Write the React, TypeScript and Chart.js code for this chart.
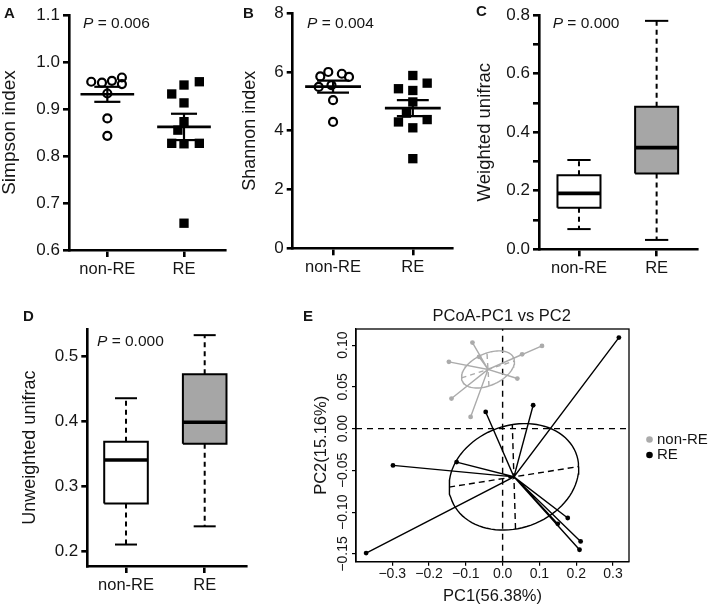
import React, { useEffect, useRef } from 'react';
import { Chart, registerables } from 'chart.js';

Chart.register(...registerables);

const FONT = '"Liberation Sans", Arial, Helvetica, sans-serif';
const INK = '#151515';
const BOX_GRAY = '#a6a6a6';
const PC_GRAY = '#ababab';

Chart.defaults.font.family = FONT;
Chart.defaults.color = INK;

// ---------------- DATA ----------------
const GROUPS = ['non-RE', 'RE'];
const GROUP_POS = [1, 2];

// A: Simpson index (dot plot, mean ± SEM)
const SIMPSON_NONRE = [0.958, 0.956, 0.96, 0.967, 0.953, 0.933, 0.88, 0.843];
const SIMPSON_NONRE_JITTER = [-0.21, -0.07, 0.06, 0.19, 0.19, 0, 0, 0];
const SIMPSON_RE = [0.958, 0.951, 0.932, 0.913, 0.873, 0.855, 0.827, 0.826, 0.827, 0.657];
const SIMPSON_RE_JITTER = [0.2, 0, -0.16, 0, 0, -0.08, -0.16, 0, 0.2, 0];
const SIMPSON_TICKS = [0.6, 0.7, 0.8, 0.9, 1.0, 1.1];
const SIMPSON_LABELS = ['0.6', '0.7', '0.8', '0.9', '1.0', '1.1'];

// B: Shannon index
const SHANNON_NONRE = [5.85, 6.0, 5.94, 5.83, 5.49, 5.55, 5.04, 4.3];
const SHANNON_NONRE_JITTER = [-0.16, -0.06, 0.11, 0.2, -0.18, -0.02, 0, 0];
const SHANNON_RE = [5.88, 5.43, 5.37, 5.62, 4.98, 4.6, 4.3, 4.38, 4.1, 3.05];
const SHANNON_RE_JITTER = [0, -0.18, 0, 0.18, 0, -0.08, -0.18, 0.18, 0, 0];
const SHANNON_TICKS = [0, 2, 4, 6, 8];
const SHANNON_LABELS = ['0', '2', '4', '6', '8'];

// C: Weighted unifrac boxes [min, q1, median, q3, max]
const WEIGHTED_NONRE = [0.069, 0.142, 0.191, 0.253, 0.305];
const WEIGHTED_RE = [0.032, 0.259, 0.347, 0.487, 0.78];
const WEIGHTED_TICKS = [0, 0.1, 0.2, 0.3, 0.4, 0.5, 0.6, 0.7, 0.8];
const WEIGHTED_LABELS = ['0.0', '', '0.2', '', '0.4', '', '0.6', '', '0.8'];

// D: Unweighted unifrac boxes [min, q1, median, q3, max]
const UNWEIGHTED_NONRE = [0.21, 0.273, 0.34, 0.368, 0.435];
const UNWEIGHTED_RE = [0.238, 0.365, 0.398, 0.472, 0.532];
const UNWEIGHTED_TICKS = [0.2, 0.3, 0.4, 0.5];
const UNWEIGHTED_LABELS = ['0.2', '0.3', '0.4', '0.5'];

// E: PCoA
const NONRE_PC1 = [-0.082, 0.107, -0.146, 0.053, 0.04, -0.139, -0.087, -0.064];
const NONRE_PC2 = [0.103, 0.099, 0.08, 0.089, 0.06, 0.036, 0.014, 0.086];
const RE_PC1 = [-0.046, 0.083, 0.316, -0.298, -0.125, -0.371, 0.177, 0.212, 0.209, 0.15];
const RE_PC2 = [0.02, 0.028, 0.109, -0.044, -0.04, -0.149, -0.107, -0.135, -0.145, -0.114];
const PC1_RANGE = [-0.3985, 0.3435];
const PC2_RANGE = [-0.1593, 0.1193];
const PC1_TICKS = [-0.3, -0.2, -0.1, 0, 0.1, 0.2, 0.3];
const PC1_LABELS = ['\u22120.3', '\u22120.2', '\u22120.1', '0.0', '0.1', '0.2', '0.3'];
const PC2_TICKS = [-0.15, -0.1, -0.05, 0, 0.05, 0.1];
const PC2_LABELS = ['\u22120.15', '\u22120.10', '\u22120.05', '0.00', '0.05', '0.10'];
const NONRE_ELLIPSE = { a: 0.0726, b: 0.02, angle: 8 };
const RE_ELLIPSE = { a: 0.1765, b: 0.0627, angle: 4 };

// ---------------- HELPERS ----------------
type Area = { l: number; t: number; r: number; b: number };
type Frame = { left: number; top: number; width: number; height: number; area: Area };
type TextPart = { t: string; italic?: boolean };
type TextItem = { x: number; y: number; size: number; parts: TextPart[]; bold?: boolean; align?: 'left' | 'center' };

const mean = (v: number[]) => v.reduce((a, b) => a + b, 0) / v.length;
const sem = (v: number[]) => {
  const m = mean(v);
  const sd = Math.sqrt(v.reduce((a, b) => a + (b - m) ** 2, 0) / (v.length - 1));
  return sd / Math.sqrt(v.length);
};

function textPlugin(f: Frame, items: TextItem[]) {
  return {
    id: 'panelText',
    afterDraw(chart: any) {
      const ctx = chart.ctx as CanvasRenderingContext2D;
      ctx.save();
      ctx.fillStyle = INK;
      ctx.textBaseline = 'middle';
      ctx.textAlign = 'left';
      for (const it of items) {
        const fonts = it.parts.map((p) => `${p.italic ? 'italic ' : ''}${it.bold ? 'bold ' : ''}${it.size}px ${FONT}`);
        const widths = it.parts.map((p, i) => {
          ctx.font = fonts[i];
          return ctx.measureText(p.t).width;
        });
        const total = widths.reduce((a, b) => a + b, 0);
        let x = it.x - f.left - (it.align === 'center' ? total / 2 : 0);
        const y = it.y - f.top;
        it.parts.forEach((p, i) => {
          ctx.font = fonts[i];
          ctx.fillText(p.t, x, y);
          x += widths[i];
        });
      }
      ctx.restore();
    },
  };
}

const seg = (pts: { x: number; y: number }[], opts: any = {}) => ({
  type: 'scatter',
  data: pts,
  showLine: true,
  borderColor: '#000',
  borderWidth: 2,
  pointRadius: 0,
  clip: false,
  fill: false,
  order: 0,
  ...opts,
});

function baseOptions(f: Frame) {
  return {
    responsive: false,
    maintainAspectRatio: false,
    animation: false,
    events: [],
    layout: { padding: { left: 0, top: f.area.t - f.top, right: f.left + f.width - f.area.r, bottom: 0 } },
    plugins: { legend: { display: false }, tooltip: { enabled: false }, title: { display: false } },
  };
}

function catXAxis(f: Frame, range: number[]) {
  return {
    type: 'linear',
    min: range[0],
    max: range[1],
    afterBuildTicks: (s: any) => {
      s.ticks = GROUP_POS.map((v) => ({ value: v }));
    },
    afterFit: (s: any) => {
      s.height = f.top + f.height - f.area.b;
    },
    ticks: {
      callback: (_v: any, i: number) => GROUPS[i],
      font: { size: 16.5, family: FONT },
      color: INK,
      padding: 2.5,
      autoSkip: false,
      maxRotation: 0,
      minRotation: 0,
    },
    grid: { drawOnChartArea: false, drawTicks: true, tickLength: 7, lineWidth: 2.6, color: '#000' },
    border: { display: true, width: 2.6, color: '#000' },
  };
}

function leftYAxis(
  f: Frame,
  o: { min: number; max: number; ticks: number[]; labels: string[]; title: string; titleSize: number; titlePad: number },
) {
  return {
    type: 'linear',
    position: 'left',
    min: o.min,
    max: o.max,
    afterBuildTicks: (s: any) => {
      s.ticks = o.ticks.map((v) => ({ value: v }));
    },
    afterFit: (s: any) => {
      s.width = f.area.l - f.left;
    },
    ticks: {
      callback: (_v: any, i: number) => o.labels[i],
      font: { size: 17, family: FONT },
      color: INK,
      padding: 3,
      autoSkip: false,
    },
    grid: { drawOnChartArea: false, drawTicks: true, tickLength: 6, lineWidth: 2.6, color: '#000' },
    border: { display: true, width: 2.6, color: '#000' },
    title: {
      display: true,
      text: o.title,
      font: { size: o.titleSize, family: FONT },
      color: INK,
      padding: { top: o.titlePad, bottom: 0 },
    },
  };
}

function dotPlotConfig(
  f: Frame,
  o: {
    nonre: number[];
    nonreJ: number[];
    re: number[];
    reJ: number[];
    xRange: number[];
    y: any;
    texts: TextItem[];
    semCap: number;
  },
) {
  const datasets: any[] = [];
  [o.nonre, o.re].forEach((vals, gi) => {
    const g = GROUP_POS[gi];
    const m = mean(vals);
    const se = sem(vals);
    datasets.push(seg([{ x: g - 0.35, y: m }, { x: g + 0.35, y: m }], { borderWidth: 2.6 }));
    datasets.push(seg([{ x: g, y: m - se }, { x: g, y: m + se }], { borderWidth: 2.2 }));
    datasets.push(seg([{ x: g - o.semCap, y: m + se }, { x: g + o.semCap, y: m + se }], { borderWidth: 2.2 }));
    datasets.push(seg([{ x: g - o.semCap, y: m - se }, { x: g + o.semCap, y: m - se }], { borderWidth: 2.2 }));
  });
  datasets.push({
    type: 'scatter',
    data: o.nonre.map((v, i) => ({ x: GROUP_POS[0] + o.nonreJ[i], y: v })),
    pointStyle: 'circle',
    pointRadius: 4,
    pointBorderWidth: 2.2,
    pointBorderColor: '#000',
    pointBackgroundColor: 'rgba(255,255,255,0)',
    clip: false,
    order: 1,
  });
  datasets.push({
    type: 'scatter',
    data: o.re.map((v, i) => ({ x: GROUP_POS[1] + o.reJ[i], y: v })),
    pointStyle: 'rect',
    pointRadius: 6.6,
    pointBorderWidth: 0,
    pointBackgroundColor: '#000',
    clip: false,
    order: 1,
  });
  return {
    type: 'scatter',
    data: { datasets },
    options: {
      ...baseOptions(f),
      scales: { x: catXAxis(f, o.xRange), y: leftYAxis(f, o.y) },
    },
    plugins: [textPlugin(f, o.texts)],
  };
}

function boxPlotConfig(
  f: Frame,
  o: { nonre: number[]; re: number[]; xRange: number[]; y: any; texts: TextItem[]; half: number; cap: number },
) {
  const datasets: any[] = [];
  [o.nonre, o.re].forEach((s, gi) => {
    const g = GROUP_POS[gi];
    const [mn, q1, md, q3, mx] = s;
    const fillColor = gi === 0 ? '#ffffff' : BOX_GRAY;
    datasets.push(seg([{ x: g - o.half, y: md }, { x: g + o.half, y: md }], { borderWidth: 3.6, order: 0 }));
    datasets.push(
      seg(
        [
          { x: g - o.half, y: q1 },
          { x: g + o.half, y: q1 },
          { x: g + o.half, y: q3 },
          { x: g - o.half, y: q3 },
          { x: g - o.half, y: q1 },
        ],
        { borderWidth: 2, fill: 'shape', backgroundColor: fillColor, borderJoinStyle: 'miter', order: 1 },
      ),
    );
    datasets.push(seg([{ x: g, y: q3 }, { x: g, y: mx }], { borderWidth: 2, borderDash: [5, 4], order: 2 }));
    datasets.push(seg([{ x: g, y: q1 }, { x: g, y: mn }], { borderWidth: 2, borderDash: [5, 4], order: 2 }));
    datasets.push(seg([{ x: g - o.cap, y: mx }, { x: g + o.cap, y: mx }], { borderWidth: 2, order: 2 }));
    datasets.push(seg([{ x: g - o.cap, y: mn }, { x: g + o.cap, y: mn }], { borderWidth: 2, order: 2 }));
  });
  return {
    type: 'scatter',
    data: { datasets },
    options: {
      ...baseOptions(f),
      scales: { x: catXAxis(f, o.xRange), y: leftYAxis(f, o.y) },
    },
    plugins: [textPlugin(f, o.texts)],
  };
}

function ellipsePoints(c: { x: number; y: number }, e: { a: number; b: number; angle: number }) {
  const th = (e.angle * Math.PI) / 180;
  const pts: { x: number; y: number }[] = [];
  const n = 90;
  for (let i = 0; i <= n; i++) {
    const t = (i / n) * 2 * Math.PI;
    pts.push({
      x: c.x + e.a * Math.cos(t) * Math.cos(th) - e.b * Math.sin(t) * Math.sin(th),
      y: c.y + e.a * Math.cos(t) * Math.sin(th) + e.b * Math.sin(t) * Math.cos(th),
    });
  }
  return pts;
}

function ellipseAxes(c: { x: number; y: number }, e: { a: number; b: number; angle: number }) {
  const th = (e.angle * Math.PI) / 180;
  const u = { x: Math.cos(th), y: Math.sin(th) };
  const v = { x: -Math.sin(th), y: Math.cos(th) };
  return [
    [
      { x: c.x - e.a * u.x, y: c.y - e.a * u.y },
      { x: c.x + e.a * u.x, y: c.y + e.a * u.y },
    ],
    [
      { x: c.x - e.b * v.x, y: c.y - e.b * v.y },
      { x: c.x + e.b * v.x, y: c.y + e.b * v.y },
    ],
  ];
}

function pcoaConfig(f: Frame) {
  const nonre = NONRE_PC1.map((x, i) => ({ x, y: NONRE_PC2[i] }));
  const re = RE_PC1.map((x, i) => ({ x, y: RE_PC2[i] }));
  const cN = { x: mean(NONRE_PC1), y: mean(NONRE_PC2) };
  const cR = { x: mean(RE_PC1), y: mean(RE_PC2) };
  const star = (c: any, pts: any[], color: string, order: number) => ({
    type: 'scatter',
    data: pts.flatMap((p) => [c, p]),
    showLine: true,
    borderColor: color,
    borderWidth: 1.4,
    pointRadius: pts.flatMap(() => [0, 2.4]),
    pointBackgroundColor: color,
    pointBorderWidth: 0,
    clip: false,
    order,
  });
  const datasets: any[] = [];
  datasets.push(star(cR, re, '#000', 1));
  datasets.push(seg(ellipsePoints(cR, RE_ELLIPSE), { borderWidth: 1.4, order: 2 }));
  ellipseAxes(cR, RE_ELLIPSE).forEach((a) =>
    datasets.push(seg(a, { borderWidth: 1.4, borderDash: [6, 4], order: 2 })),
  );
  datasets.push(star(cN, nonre, PC_GRAY, 3));
  datasets.push(seg(ellipsePoints(cN, NONRE_ELLIPSE), { borderWidth: 1.4, borderColor: PC_GRAY, order: 4 }));
  ellipseAxes(cN, NONRE_ELLIPSE).forEach((a) =>
    datasets.push(seg(a, { borderWidth: 1.4, borderColor: PC_GRAY, borderDash: [5, 4], order: 4 })),
  );
  datasets.push(seg([{ x: 0, y: PC2_RANGE[0] }, { x: 0, y: PC2_RANGE[1] }], { borderWidth: 1.4, borderDash: [6, 5], order: 6 }));
  datasets.push(seg([{ x: PC1_RANGE[0], y: 0 }, { x: PC1_RANGE[1], y: 0 }], { borderWidth: 1.4, borderDash: [6, 5], order: 6 }));

  const decor = {
    id: 'pcoaDecor',
    afterDraw(chart: any) {
      const ctx = chart.ctx as CanvasRenderingContext2D;
      const a = chart.chartArea;
      const ys = chart.scales.y;
      ctx.save();
      ctx.strokeStyle = '#000';
      ctx.lineWidth = 1.3;
      ctx.strokeRect(a.left, a.top, a.right - a.left, a.bottom - a.top);
      ctx.fillStyle = INK;
      ctx.font = `14px ${FONT}`;
      ctx.textAlign = 'center';
      ctx.textBaseline = 'middle';
      PC2_TICKS.forEach((v, i) => {
        const py = ys.getPixelForValue(v);
        ctx.save();
        ctx.translate(343 - f.left, py);
        ctx.rotate(-Math.PI / 2);
        ctx.fillText(PC2_LABELS[i], 0, 0);
        ctx.restore();
      });
      const legend = [
        { label: GROUPS[0], color: PC_GRAY, y: 439.5 },
        { label: GROUPS[1], color: '#000', y: 455 },
      ];
      ctx.textAlign = 'left';
      ctx.font = `15px ${FONT}`;
      legend.forEach((it) => {
        ctx.fillStyle = it.color;
        ctx.beginPath();
        ctx.arc(649.5 - f.left, it.y - f.top, 3.3, 0, Math.PI * 2);
        ctx.fill();
        ctx.fillStyle = INK;
        ctx.fillText(it.label, 657 - f.left, it.y - f.top);
      });
      ctx.restore();
    },
  };

  return {
    type: 'scatter',
    data: { datasets },
    options: {
      ...baseOptions(f),
      scales: {
        x: {
          type: 'linear',
          min: PC1_RANGE[0],
          max: PC1_RANGE[1],
          afterBuildTicks: (s: any) => {
            s.ticks = PC1_TICKS.map((v) => ({ value: v }));
          },
          afterFit: (s: any) => {
            s.height = f.top + f.height - f.area.b;
          },
          ticks: {
            callback: (_v: any, i: number) => PC1_LABELS[i],
            font: { size: 14, family: FONT },
            color: INK,
            padding: 0,
            autoSkip: false,
            maxRotation: 0,
            minRotation: 0,
          },
          grid: { drawOnChartArea: false, drawTicks: true, tickLength: 4, lineWidth: 1.2, color: '#000' },
          border: { display: true, width: 1.3, color: '#000' },
          title: {
            display: true,
            text: 'PC1(56.38%)',
            font: { size: 16.5, family: FONT },
            color: INK,
            padding: { top: 0, bottom: 0 },
          },
        },
        y: {
          type: 'linear',
          min: PC2_RANGE[0],
          max: PC2_RANGE[1],
          afterBuildTicks: (s: any) => {
            s.ticks = PC2_TICKS.map((v) => ({ value: v }));
          },
          afterFit: (s: any) => {
            s.width = f.area.l - f.left;
          },
          ticks: { display: false },
          grid: { drawOnChartArea: false, drawTicks: true, tickLength: 4, lineWidth: 1.2, color: '#000' },
          border: { display: true, width: 1.3, color: '#000' },
          title: {
            display: true,
            text: 'PC2(15.16%)',
            font: { size: 16.5, family: FONT },
            color: INK,
            padding: { top: 32, bottom: 0 },
          },
        },
      },
    },
    plugins: [
      textPlugin(f, [
        { x: 303, y: 316.5, size: 15, bold: true, parts: [{ t: 'E' }] },
        { x: 501.7, y: 316, size: 16.5, align: 'center', parts: [{ t: 'PCoA-PC1 vs PC2' }] },
      ]),
      decor,
    ],
  };
}

// ---------------- PANELS ----------------
const FRAME_A: Frame = { left: 0, top: 0, width: 232, height: 290, area: { l: 69, t: 15, r: 228, b: 250 } };
const FRAME_B: Frame = { left: 232, top: 0, width: 228, height: 290, area: { l: 292.7, t: 12.7, r: 452.7, b: 248.3 } };
const FRAME_C: Frame = { left: 462, top: 0, width: 247, height: 290, area: { l: 539, t: 15, r: 697, b: 249.3 } };
const FRAME_D: Frame = { left: 0, top: 295, width: 280, height: 311, area: { l: 87.3, t: 329.3, r: 246, b: 566 } };
const FRAME_E: Frame = { left: 280, top: 295, width: 429, height: 311, area: { l: 356, t: 329, r: 629, b: 561.7 } };

const PANELS: { frame: Frame; build: (f: Frame) => any }[] = [
  {
    frame: FRAME_A,
    build: (f) =>
      dotPlotConfig(f, {
        nonre: SIMPSON_NONRE,
        nonreJ: SIMPSON_NONRE_JITTER,
        re: SIMPSON_RE,
        reJ: SIMPSON_RE_JITTER,
        xRange: [0.5, 2.54],
        semCap: 0.17,
        y: { min: 0.6, max: 1.1, ticks: SIMPSON_TICKS, labels: SIMPSON_LABELS, title: 'Simpson index', titleSize: 19, titlePad: -1.5 },
        texts: [
          { x: 4, y: 14, size: 15, bold: true, parts: [{ t: 'A' }] },
          { x: 83, y: 24, size: 15.5, parts: [{ t: 'P', italic: true }, { t: ' = 0.006' }] },
        ],
      }),
  },
  {
    frame: FRAME_B,
    build: (f) =>
      dotPlotConfig(f, {
        nonre: SHANNON_NONRE,
        nonreJ: SHANNON_NONRE_JITTER,
        re: SHANNON_RE,
        reJ: SHANNON_RE_JITTER,
        xRange: [0.494, 2.5],
        semCap: 0.2,
        y: { min: 0, max: 8, ticks: SHANNON_TICKS, labels: SHANNON_LABELS, title: 'Shannon index', titleSize: 18, titlePad: 7 },
        texts: [
          { x: 243, y: 13.5, size: 15, bold: true, parts: [{ t: 'B' }] },
          { x: 307, y: 23.5, size: 15.5, parts: [{ t: 'P', italic: true }, { t: ' = 0.004' }] },
        ],
      }),
  },
  {
    frame: FRAME_C,
    build: (f) =>
      boxPlotConfig(f, {
        nonre: WEIGHTED_NONRE,
        re: WEIGHTED_RE,
        xRange: [0.485, 2.52],
        half: 0.277,
        cap: 0.15,
        y: { min: 0, max: 0.8, ticks: WEIGHTED_TICKS, labels: WEIGHTED_LABELS, title: 'Weighted unifrac', titleSize: 18.5, titlePad: 11.5 },
        texts: [
          { x: 476, y: 11.5, size: 15, bold: true, parts: [{ t: 'C' }] },
          { x: 552.7, y: 24, size: 15.5, parts: [{ t: 'P', italic: true }, { t: ' = 0.000' }] },
        ],
      }),
  },
  {
    frame: FRAME_D,
    build: (f) =>
      boxPlotConfig(f, {
        nonre: UNWEIGHTED_NONRE,
        re: UNWEIGHTED_RE,
        xRange: [0.508, 2.525],
        half: 0.277,
        cap: 0.14,
        y: { min: 0.177, max: 0.541, ticks: UNWEIGHTED_TICKS, labels: UNWEIGHTED_LABELS, title: 'Unweighted unifrac', titleSize: 18, titlePad: 19 },
        texts: [
          { x: 23, y: 316.7, size: 15, bold: true, parts: [{ t: 'D' }] },
          { x: 97, y: 341.7, size: 15.5, parts: [{ t: 'P', italic: true }, { t: ' = 0.000' }] },
        ],
      }),
  },
  { frame: FRAME_E, build: (f) => pcoaConfig(f) },
];

function ChartPanel({ frame, build }: { frame: Frame; build: (f: Frame) => any }) {
  const ref = useRef<HTMLCanvasElement>(null);
  useEffect(() => {
    const chart = new Chart(ref.current as HTMLCanvasElement, build(frame));
    return () => chart.destroy();
  }, []);
  return (
    <canvas
      ref={ref}
      width={frame.width}
      height={frame.height}
      style={{ position: 'absolute', left: frame.left, top: frame.top, width: frame.width, height: frame.height }}
    />
  );
}

export default function App() {
  return (
    <div style={{ position: 'absolute', left: 0, top: 0, width: 709, height: 606, background: '#fff', overflow: 'hidden' }}>
      {PANELS.map((p, i) => (
        <ChartPanel key={i} frame={p.frame} build={p.build} />
      ))}
    </div>
  );
}
